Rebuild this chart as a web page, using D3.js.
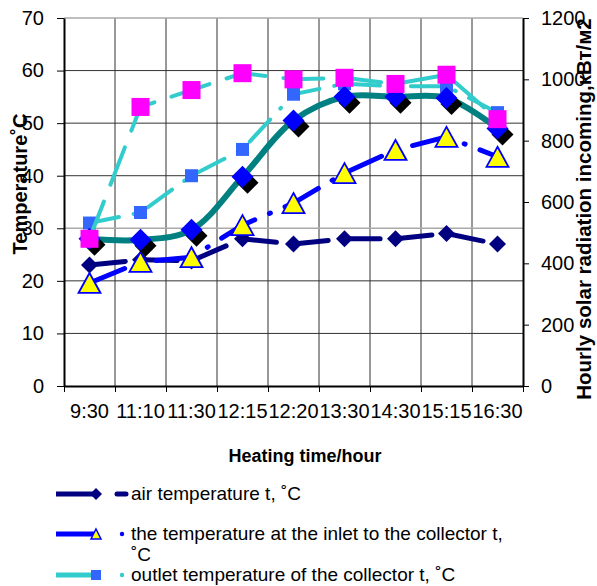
<!DOCTYPE html>
<html>
<head>
<meta charset="utf-8">
<script src="https://cdn.jsdelivr.net/npm/d3@7"></script>
<style>
  body { margin: 0; background: #fff; }
  text { font-family: "Liberation Sans", Arial, sans-serif; }
</style>
</head>
<body>
<svg width="597" height="586"></svg>
<script>
const times = ['9:30', '11:10', '11:30', '12:15', '12:20', '13:30', '14:30', '15:15', '16:30'];
const airTemp = [23, 24, 23.8, 28, 27, 28, 28, 29, 27];
const inletTemp = [19.6, 23.6, 24.5, 30.6, 34.8, 40.5, 44.9, 47.4, 43.6];
const outletTemp = [31, 33, 40, 45, 55.5, 57.5, 57, 57, 52];
const collectorTemp = [28, 27.8, 29.7, 39.8, 50.5, 55, 55, 54.8, 49];
const radiation = [480, 910, 965, 1020, 1000, 1005, 985, 1015, 870];
const tempTicks = [0, 10, 20, 30, 40, 50, 60, 70];
const radTicks = [0, 200, 400, 600, 800, 1000, 1200];

const [L, R, T, B] = [64, 523, 18, 386];
const svg = d3.select('svg');

const x = d3.scaleBand().domain(times).range([L, R]);
const xEdge = d3.scaleLinear().domain([0, times.length]).range([L, R]);
const y = d3.scaleLinear().domain([0, 70]).range([B, T]);
const yR = d3.scaleLinear().domain([0, 1200]).range([B, T]);
const cx = d => x(d) + x.bandwidth() / 2;

// grid
svg.append('g').selectAll('line')
    .data(d3.range(1, times.length))
    .enter().append('line')
    .attr('x1', d => xEdge(d)).attr('x2', d => xEdge(d))
    .attr('y1', T).attr('y2', B)
    .attr('stroke', '#333').attr('stroke-width', 1);
svg.append('g').selectAll('line')
    .data(tempTicks.slice(1))
    .enter().append('line')
    .attr('x1', L).attr('x2', R)
    .attr('y1', d => y(d)).attr('y2', d => y(d))
    .attr('stroke', d => (d === 30 || d === 70) ? '#aaa' : '#333')
    .attr('stroke-width', d => (d === 30 || d === 70) ? 1.5 : 1);

// axes
const styleAxis = g => {
    g.select('.domain').attr('stroke', '#000').attr('stroke-width', 2);
    g.selectAll('.tick line').attr('stroke', '#000');
    g.selectAll('text').attr('font-size', 20).attr('fill', '#000')
        .attr('font-family', '"Liberation Sans", Arial, sans-serif');
};
svg.append('g').attr('transform', `translate(${L},0)`)
    .call(d3.axisLeft(y).tickValues(tempTicks).tickSize(7).tickPadding(13).tickSizeOuter(0))
    .call(styleAxis);
svg.append('g').attr('transform', `translate(${R},0)`)
    .call(d3.axisRight(yR).tickValues(radTicks).tickFormat(d3.format('d')).tickSize(6).tickPadding(12).tickSizeOuter(0))
    .call(styleAxis);
svg.append('g').attr('transform', `translate(0,${B})`)
    .call(d3.axisBottom(xEdge).ticks(times.length).tickFormat('').tickSize(6).tickSizeOuter(0))
    .call(styleAxis);
svg.append('g').attr('transform', `translate(0,${B})`)
    .call(d3.axisBottom(x).tickSize(0).tickPadding(18))
    .call(g => g.select('.domain').remove())
    .call(styleAxis);

// titles
svg.append('text').attr('x', 305).attr('y', 462).attr('text-anchor', 'middle')
    .attr('font-size', 18).attr('font-weight', 'bold').text('Heating time/hour');
svg.append('text').attr('transform', 'translate(27,184) rotate(-90)').attr('text-anchor', 'middle')
    .attr('font-size', 20).attr('font-weight', 'bold').text('Temperature˚C');
svg.append('text').attr('transform', 'translate(591,209) rotate(-90)').attr('text-anchor', 'middle')
    .attr('font-size', 20.5).attr('font-weight', 'bold').text('Hourly solar radiation incoming,кВт/м2');

// marker shapes
const diamond = r => `M0,${-r}L${r},0L0,${r}L${-r},0Z`;
const triangle = (w, h) => `M0,${-h / 2}L${w / 2},${h / 2}L${-w / 2},${h / 2}Z`;
const square = s => `M${-s / 2},${-s / 2}h${s}v${s}h${-s}Z`;

function series(vals, scale, opts) {
    const g = svg.append('g');
    const line = d3.line().x((d, i) => cx(times[i])).y(d => scale(d));
    if (opts.curve) line.curve(opts.curve);
    g.append('path').datum(vals).attr('d', line)
        .attr('fill', 'none').attr('stroke', opts.color).attr('stroke-width', opts.width)
        .attr('stroke-dasharray', opts.dash || null).attr('stroke-linecap', 'round');
    if (opts.shadow) {
        g.selectAll('.sh').data(vals).enter().append('path').attr('class', 'sh')
            .attr('transform', (d, i) => `translate(${cx(times[i]) + 5},${scale(d) + 6})`)
            .attr('d', opts.marker).attr('fill', '#000');
    }
    g.selectAll('.mk').data(vals).enter().append('path').attr('class', 'mk')
        .attr('transform', (d, i) => `translate(${cx(times[i])},${scale(d)})`)
        .attr('d', opts.marker).attr('fill', opts.fill)
        .attr('stroke', opts.stroke || 'none').attr('stroke-width', opts.strokeWidth || 0);
}

series(airTemp, y, { color: '#000080', width: 5, dash: '36,16', marker: diamond(8.5), fill: '#000080' });
series(inletTemp, y, { color: '#0000ff', width: 5, dash: '38,16,1,16', marker: triangle(22, 20), fill: '#ffff00', stroke: '#0000ff', strokeWidth: 1.8 });
series(outletTemp, y, { color: '#33cccc', width: 4, dash: '30,15,1,15', marker: square(13), fill: '#3366ff' });
series(collectorTemp, y, { color: '#008080', width: 6, curve: d3.curveCatmullRom, marker: diamond(11), fill: '#0000ff', shadow: true });
series(radiation, yR, { color: '#33cccc', width: 4, dash: '40,18', marker: square(18), fill: '#ff00ff' });

// legend
const legendItems = [
    { label: ['air temperature t, ˚C'], color: '#000080', marker: diamond(6), fill: '#000080', dash: true },
    { label: ['the temperature at the inlet to the collector t,', '˚C'], color: '#0000ff', marker: triangle(10, 10), fill: '#ffff00', stroke: '#0000ff' },
    { label: ['outlet temperature of the collector t, ˚C'], color: '#33cccc', marker: square(10), fill: '#3366ff' }
];
const legendY = [494, 534, 575];
const lg = svg.append('g');
legendItems.forEach((it, i) => {
    const yy = legendY[i];
    lg.append('line').attr('x1', 56).attr('x2', 96).attr('y1', yy).attr('y2', yy)
        .attr('stroke', it.color).attr('stroke-width', 5);
    lg.append('path').attr('transform', `translate(96,${yy})`).attr('d', it.marker)
        .attr('fill', it.fill).attr('stroke', it.stroke || 'none').attr('stroke-width', 1.5);
    if (it.dash) {
        lg.append('line').attr('x1', 117).attr('x2', 126).attr('y1', yy).attr('y2', yy)
            .attr('stroke', it.color).attr('stroke-width', 5).attr('stroke-linecap', 'round');
    } else {
        lg.append('circle').attr('cx', 122).attr('cy', yy).attr('r', 2.2).attr('fill', it.color);
    }
    it.label.forEach((t, j) => {
        lg.append('text').attr('x', 131).attr('y', yy + 6 + j * 21)
            .attr('font-size', 19).text(t);
    });
});
</script>
</body>
</html>
